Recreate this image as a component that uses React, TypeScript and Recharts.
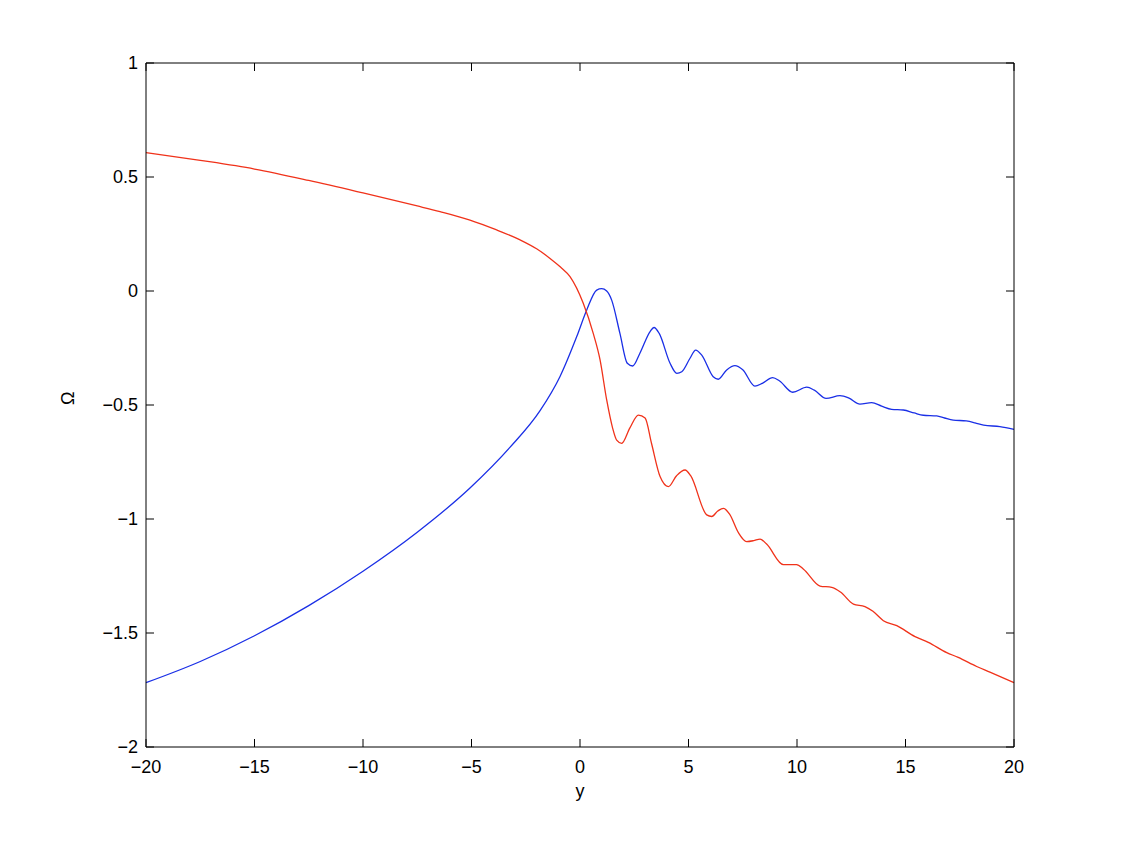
import { LineChart, Line, XAxis, YAxis, Label } from "recharts";

// Omega(y) curves
const blueY = [
  -20, -17.5, -15, -12.5, -10, -7.5, -5.07, -3.23, -1.84, -0.92, -0.15, 0.31, 0.77, 1.0,
  1.23, 1.46, 1.84, 2.18, 2.43, 2.76, 3.23, 3.41, 3.65, 4.15, 4.46, 4.69, 5.07, 5.33, 5.61, 6.14, 6.37,
  6.76, 7.14, 7.5, 8.06, 8.4, 8.88, 9.2, 9.8, 10.45, 10.8, 11.34, 11.98, 12.4, 12.9, 13.44, 13.9, 14.36,
  14.9, 15.4, 15.82, 16.44, 16.8, 17.2, 17.8, 18.2, 18.6, 19.35, 20,
];
const blueOmega = [
  -1.718, -1.625, -1.512, -1.38, -1.229, -1.058, -0.864, -0.686, -0.525, -0.375, -0.2, -0.083, 0.004, 0.01,
  0.0, -0.04, -0.186, -0.317, -0.329, -0.273, -0.178, -0.16, -0.186, -0.317, -0.361, -0.354, -0.295, -0.259, -0.281, -0.376, -0.387,
  -0.346, -0.327, -0.345, -0.417, -0.405, -0.38, -0.395, -0.444, -0.422, -0.435, -0.471, -0.459, -0.47, -0.496, -0.49, -0.505, -0.519,
  -0.522, -0.535, -0.545, -0.548, -0.557, -0.566, -0.57, -0.578, -0.588, -0.595, -0.607,
];

const redY = [
  -20, -17.5, -15, -12.5, -10, -7.5, -6.45, -5.07, -3.9, -2.76, -2.0, -1.38, -0.9, -0.46,
  0.15, 0.61, 0.92, 1.23, 1.5, 1.69, 1.92, 2.3, 2.69, 3.0, 3.3, 3.69, 4.07, 4.45, 4.84, 5.1, 5.84, 6.07,
  6.35, 6.61, 6.9, 7.3, 7.68, 8.0, 8.3, 8.6, 9.37, 9.98, 10.3, 11.06, 11.6, 12.0, 12.6, 13.13, 13.5,
  13.98, 14.6, 15.44, 16.05, 16.9, 17.43, 18.28, 18.89, 20,
];
const redOmega = [
  0.607, 0.573, 0.535, 0.485, 0.43, 0.373, 0.348, 0.311, 0.27, 0.224, 0.185, 0.143, 0.105, 0.063,
  -0.054, -0.186, -0.3, -0.478, -0.6, -0.654, -0.668, -0.6, -0.544, -0.557, -0.67, -0.814, -0.858, -0.81, -0.785, -0.81, -0.982, -0.989,
  -0.965, -0.953, -0.98, -1.06, -1.099, -1.095, -1.088, -1.11, -1.2, -1.2, -1.22, -1.294, -1.3, -1.32, -1.373, -1.384, -1.405,
  -1.446, -1.468, -1.516, -1.541, -1.586, -1.607, -1.647, -1.672, -1.718,
];

const xTicks = [-20, -15, -10, -5, 0, 5, 10, 15, 20];
const yTicks = [-2, -1.5, -1, -0.5, 0, 0.5, 1];

const blueData = blueY.map((y, i) => ({ y, omega: blueOmega[i] }));
const redData = redY.map((y, i) => ({ y, omega: redOmega[i] }));

const fmt = (v: number) => String(v).replace("-", "\u2212");
const blank = () => "";
const tickStyle = { fontSize: 18, fill: "#000", fontFamily: "Liberation Sans, Arial, sans-serif" };

export default function App() {
  return (
    <div style={{ position: "absolute", left: 0, top: 0, background: "#fff" }}>
      <LineChart width={1121} height={842} margin={{ top: 62, right: 106, left: 0, bottom: 35 }}>
        <XAxis
          xAxisId="b"
          dataKey="y"
          type="number"
          domain={[-20, 20]}
          ticks={xTicks}
          tickFormatter={fmt}
          allowDuplicatedCategory={false}
          height={60}
          tickSize={-8}
          tickMargin={21}
          tick={tickStyle}
          stroke="#000"
          tickLine={{ stroke: "#000" }}
        >
          <Label value="y" position="insideBottom" offset={10} style={tickStyle} />
        </XAxis>
        <XAxis
          xAxisId="t"
          orientation="top"
          dataKey="y"
          type="number"
          domain={[-20, 20]}
          ticks={xTicks}
          tickFormatter={blank}
          allowDuplicatedCategory={false}
          height={1}
          tickSize={-8}
          tick={tickStyle}
          stroke="#000"
          tickLine={{ stroke: "#000" }}
        />
        <YAxis
          yAxisId="l"
          type="number"
          domain={[-2, 1]}
          ticks={yTicks}
          tickFormatter={fmt}
          width={146}
          tickSize={-8}
          tickMargin={16}
          tick={tickStyle}
          stroke="#000"
          tickLine={{ stroke: "#000" }}
        >
          <Label value="Ω" angle={-90} position="insideLeft" offset={68} style={tickStyle} />
        </YAxis>
        <YAxis
          yAxisId="r"
          orientation="right"
          type="number"
          domain={[-2, 1]}
          ticks={yTicks}
          tickFormatter={blank}
          width={1}
          tickSize={-8}
          tick={tickStyle}
          stroke="#000"
          tickLine={{ stroke: "#000" }}
        />
        <Line
          xAxisId="b"
          yAxisId="l"
          data={blueData}
          dataKey="omega"
          type="monotone"
          stroke="#1a2fe6"
          strokeWidth={1.3}
          dot={false}
          isAnimationActive={false}
        />
        <Line
          xAxisId="t"
          yAxisId="r"
          data={redData}
          dataKey="omega"
          type="monotone"
          stroke="#f0321a"
          strokeWidth={1.3}
          dot={false}
          isAnimationActive={false}
        />
      </LineChart>
    </div>
  );
}
